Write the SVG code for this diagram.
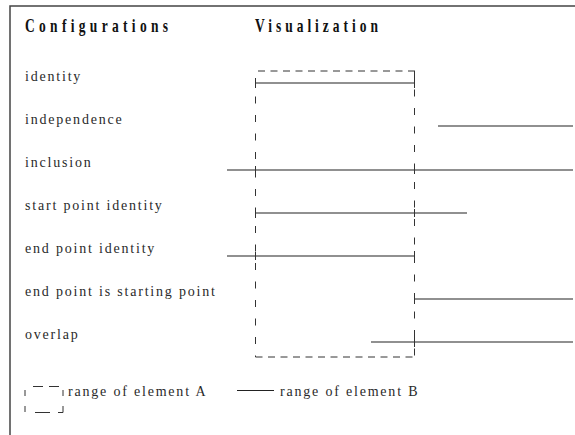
<svg xmlns="http://www.w3.org/2000/svg" width="575" height="435" viewBox="0 0 575 435">
<style>
.frame{stroke:#444;stroke-width:1.5;fill:none}
.head{font-family:"Liberation Serif",serif;font-weight:bold;font-size:18px;fill:#111}
.lbl{font-family:"Liberation Serif",serif;font-size:14px;fill:#2a2a2a;letter-spacing:1.8px}
.b{stroke:#222;stroke-width:1.1;fill:none}
.tick{stroke:#333;stroke-width:1;fill:none}
.dh{stroke:#333;stroke-width:1;stroke-dasharray:7 5.5;fill:none}
.dv{stroke:#333;stroke-width:1;stroke-dasharray:7 11.5;fill:none}
.ds{stroke:#333;stroke-width:1;fill:none}
</style>
<rect width="575" height="435" fill="#fff"/>
<path class="frame" d="M575 6 H10 V435"/>
<g id="headers" transform="scale(0.75 1)">
<text class="head" x="33.33" y="32" textLength="190.7" lengthAdjust="spacing">Configurations</text>
<text class="head" x="340" y="32" textLength="164" lengthAdjust="spacing">Visualization</text>
</g>
<g id="labels">
<text class="lbl" x="25" y="81">identity</text>
<text class="lbl" x="25" y="124">independence</text>
<text class="lbl" x="25" y="167">inclusion</text>
<text class="lbl" x="25" y="210">start point identity</text>
<text class="lbl" x="25" y="253">end point identity</text>
<text class="lbl" x="25" y="296">end point is starting point</text>
<text class="lbl" x="25" y="339">overlap</text>
</g>
<g id="elementA">
<path class="dh" d="M258 71 H415"/>
<path class="dh" d="M255.5 357 H415"/>
<path class="dv" d="M255.5 78 V357"/>
<path class="dv" d="M414.5 71 V357"/>
</g>
<g id="connectors">
<g id="identity"><path class="b" d="M255.5 83 H414.5"/><path class="tick" d="M255.5 78 V88 M414.5 78 V88"/></g>
<g id="independence"><path class="b" d="M438 126 H573"/></g>
<g id="inclusion"><path class="b" d="M227 170 H573"/><path class="tick" d="M255.5 166 V174 M414.5 166 V174"/></g>
<g id="start-point-identity"><path class="b" d="M255.5 213 H467"/><path class="tick" d="M255.5 208 V218 M414.5 209 V217"/></g>
<g id="end-point-identity"><path class="b" d="M227 256 H414.5"/><path class="tick" d="M255.5 252 V260 M414.5 251 V261"/></g>
<g id="end-point-is-starting-point"><path class="b" d="M414.5 299 H573"/><path class="tick" d="M414.5 294 V304"/></g>
<g id="overlap"><path class="b" d="M371 342 H573"/><path class="tick" d="M414.5 337 V347"/></g>
</g>
<g id="legend">
<path class="ds" d="M25 390 V396 M25 406 V412 M33 386.5 H43 M49 386.5 H59 M63 390 V396 M35 412.5 H50 M58 412.5 H63 V406"/>
<text class="lbl" x="68" y="396">range of element A</text>
<path class="b" d="M237 390.5 H274"/>
<text class="lbl" x="280" y="396">range of element B</text>
</g>
</svg>
